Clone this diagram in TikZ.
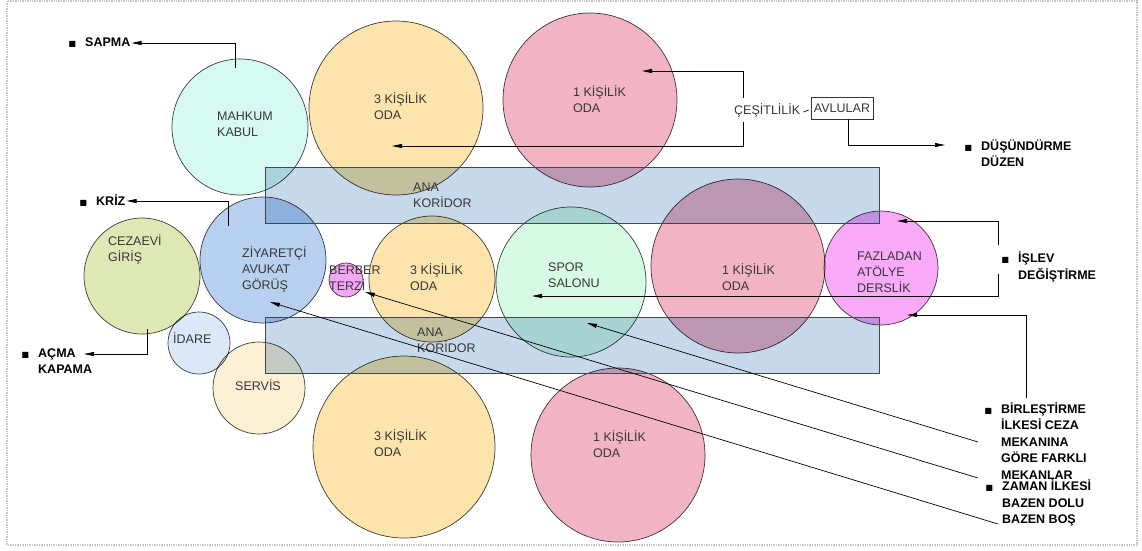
\documentclass[tikz,border=0pt]{standalone}
\usepackage{fontspec}
\setmainfont{Liberation Sans}
\newfontfamily\symfont{DejaVu Sans}
\usepackage{tikz}
\usetikzlibrary{arrows.meta, positioning, calc}
\definecolor{kabul}{RGB}{214,250,242}
\definecolor{odaorange}{RGB}{252,228,172}
\definecolor{odapink}{RGB}{242,179,196}
\definecolor{giris}{RGB}{222,232,180}
\definecolor{gorus}{RGB}{183,208,240}
\definecolor{berber}{RGB}{245,165,245}
\definecolor{idare}{RGB}{219,232,248}
\definecolor{servis}{RGB}{252,240,212}
\definecolor{spor}{RGB}{214,250,228}
\definecolor{atolye}{RGB}{249,170,249}
\definecolor{koridor}{RGB}{198,216,234}
\definecolor{koredge}{RGB}{64,72,80}
\definecolor{roomtext}{RGB}{55,55,55}

\newcommand{\blt}{\llap{{\symfont\fontsize{8}{8}\selectfont ■}\hspace{9pt}}}

\begin{document}
\begin{tikzpicture}[
  x=1pt, y=-1pt,
  room/.style={circle, draw=black!75, line width=0.7pt, inner sep=0pt},
  hall/.style={rectangle, fill=koridor, inner sep=0pt,
    minimum width=613pt, minimum height=55pt},
  roomtxt/.style={anchor=west, align=left, inner sep=0pt, text=roomtext,
    font=\fontsize{12.5}{16}\selectfont},
  tag/.style={anchor=west, align=left, inner sep=1pt,
    font=\bfseries\fontsize{12.5}{16.5}\selectfont},
  arrow/.style={-{Triangle[length=10pt, width=4pt]}, line width=0.7pt},
  link/.style={line width=0.7pt},
]
\useasboundingbox (0,0) rectangle (1142,550);
\draw[gray!45, line width=1.4pt, densely dotted] (7,1) rectangle (1137,545);

% ── Corridors
\node[hall] (hallTop) at (572.5,195.5) {};
\node[hall] (hallBot) at (572.5,345.5) {};

% ── Rooms
\begin{scope}[blend mode=multiply]
\node[room, fill=kabul, minimum size=136pt] (mahkum) at (240,127) {};
\node[room, fill=odaorange, minimum size=174pt] (oda3top) at (396,108) {};
\node[room, fill=odapink, minimum size=174pt] (oda1top) at (590,100) {};

\node[room, fill=giris, minimum size=116pt] (cezaevi) at (142,276) {};
\node[room, fill=gorus, minimum size=126pt] (ziyaret) at (263,260) {};
\node[room, fill=berber, minimum size=34pt] (berber) at (346,280) {};
\node[room, fill=odaorange, minimum size=126pt] (oda3mid) at (432,279) {};
\node[room, fill=spor, minimum size=150pt] (spor) at (571,282) {};
\node[room, fill=odapink, minimum size=174pt] (oda1mid) at (738,266) {};
\node[room, fill=atolye, minimum size=114pt] (atolye) at (881,268) {};

\node[room, fill=idare, minimum size=62pt] (idare) at (199,343) {};
\node[room, fill=servis, minimum size=92pt] (servis) at (259,388) {};
\node[room, fill=odaorange, minimum size=182pt] (oda3bot) at (404,447) {};
\node[room, fill=odapink, minimum size=174pt] (oda1bot) at (618,455) {};
\end{scope}

\draw[koredge, line width=0.8pt] (hallTop.north west) rectangle (hallTop.south east);
\draw[koredge, line width=0.8pt] (hallBot.north west) rectangle (hallBot.south east);

% ── Room names
\node[roomtxt] (mahkumT) at (217,124.5) {MAHKUM\\KABUL};
\node[roomtxt] (oda3topT) at (374,106) {3 KİŞİLİK\\ODA};
\node[roomtxt] (oda1topT) at (573,99) {1 KİŞİLİK\\ODA};
\node[roomtxt] (hallTopT) at (413,195) {ANA\\KORİDOR};
\node[roomtxt] (hallBotT) at (417,340) {ANA\\KORİDOR};
\node[roomtxt] (cezaeviT) at (108,249) {CEZAEVİ\\GİRİŞ};
\node[roomtxt] (ziyaretT) at (242,269) {ZİYARETÇİ\\AVUKAT\\GÖRÜŞ};
\node[roomtxt] (berberT) at (329,278) {BERBER\\TERZİ};
\node[roomtxt] (oda3midT) at (410,277) {3 KİŞİLİK\\ODA};
\node[roomtxt] (sporT) at (548,275) {SPOR\\SALONU};
\node[roomtxt] (oda1midT) at (722,277) {1 KİŞİLİK\\ODA};
\node[roomtxt] (atolyeT) at (857,272) {FAZLADAN\\ATÖLYE\\DERSLİK};
\node[roomtxt] (idareT) at (173,338) {İDARE};
\node[roomtxt] (servisT) at (235,385) {SERVİS};
\node[roomtxt] (oda3botT) at (374,443) {3 KİŞİLİK\\ODA};
\node[roomtxt] (oda1botT) at (593,444) {1 KİŞİLİK\\ODA};

\node[roomtxt] (cesit) at (734,110) {ÇEŞİTLİLİK};
\node[draw=black!80, line width=0.7pt, inner sep=3pt, minimum height=22pt,
      text=roomtext, font=\fontsize{12.5}{16}\selectfont] (avlu) at (842,108) {AVLULAR};
\draw[link] ([xshift=3pt,yshift=-2pt]cesit.east) -- ([xshift=-2pt,yshift=-2pt]avlu.west);

% ── Principles
\node[tag] (sapma) at (84,43) {\blt SAPMA};
\node[tag] (kriz) at (95,201) {\blt KRİZ};
\node[tag] (acma) at (37,361) {\blt AÇMA\\KAPAMA};
\node[tag] (dusun) at (980,153) {\blt DÜŞÜNDÜRME\\DÜZEN};
\node[tag] (islev) at (1017,267) {\blt İŞLEV\\DEĞİŞTİRME};
\node[tag] (birles) at (1000,441) {\blt BİRLEŞTİRME\\İLKESİ CEZA\\MEKANINA\\GÖRE FARKLI\\MEKANLAR};
\node[tag] (zaman) at (1001,503) {\blt ZAMAN İLKESİ\\BAZEN DOLU\\BAZEN BOŞ};

% ── Arrow ends
\coordinate (mahkumTop) at (235,68);
\coordinate (ziyaretTop) at (228,226);
\coordinate (cezaeviBot) at (147,329);
\coordinate (acmaTip) at (84,354);
\coordinate (cesitN) at (743,98);
\coordinate (cesitS) at (743,122);
\coordinate (oda1In) at (642,71);
\coordinate (oda3In) at (392,146);
\coordinate (dusunTip) at (945,145);
\coordinate (islevN) at (998,245);
\coordinate (islevS) at (998,274);
\coordinate (atolyeIn) at (897,221);
\coordinate (sporIn) at (532,296);
\coordinate (birlesTop) at (1026,398);
\coordinate (atolyeLow) at (907,315);
\coordinate (mekanina) at (978,442);
\coordinate (sporLow) at (587,323);
\coordinate (mekanlar) at (978,478);
\coordinate (terziIn) at (365,292);
\coordinate (bazenBos) at (998,524);
\coordinate (gorusIn) at (270,302);

% ── Arrows
\draw[arrow] (mahkumTop) |- (sapma.east);
\draw[arrow] (ziyaretTop) |- (kriz.east);
\draw[arrow] (cezaeviBot) |- (acmaTip);
\draw[arrow] (cesitN) |- (oda1In);
\draw[arrow] (cesitS) |- (oda3In);
\draw[arrow] ([xshift=6pt]avlu.south) |- (dusunTip);
\draw[arrow] (islevN) |- (atolyeIn);
\draw[arrow] (islevS) |- (sporIn);
\draw[arrow] (birlesTop) |- (atolyeLow);
\draw[arrow] (mekanina) -- (sporLow);
\draw[arrow] (mekanlar) -- (terziIn);
\draw[arrow] (bazenBos) -- (gorusIn);

\end{tikzpicture}
\end{document}
